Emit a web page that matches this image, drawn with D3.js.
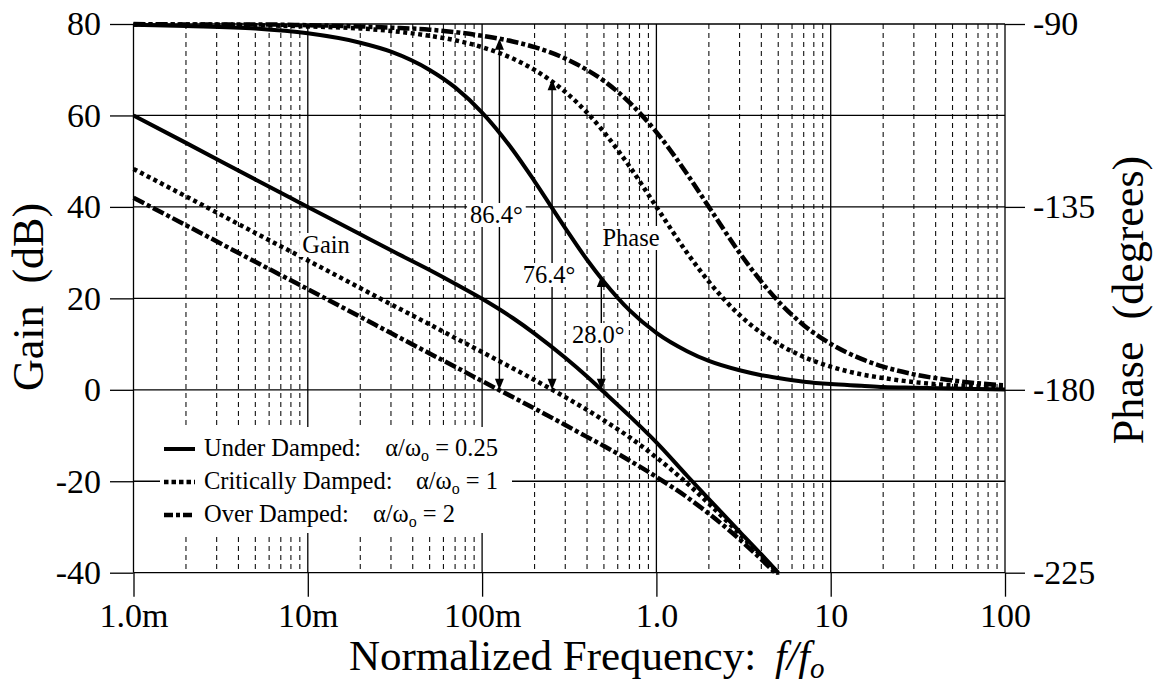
<!DOCTYPE html>
<html>
<head>
<meta charset="utf-8">
<script src="https://cdn.jsdelivr.net/npm/d3@7"></script>
<style>
  html, body { margin: 0; padding: 0; background: #fff; }
  svg { display: block; font-family: "Liberation Serif", "Times New Roman", Times, serif; }
  text { font-family: "Liberation Serif", "Times New Roman", Times, serif; fill: #000; }
</style>
</head>
<body>
<svg id="chart" width="1158" height="689"></svg>
<script>
// Normalized frequency f/fo (log axis)
const freq = [0.001, 0.002, 0.005, 0.01, 0.02, 0.03, 0.05, 0.07, 0.1, 0.15, 0.2, 0.3, 0.4, 0.5,
              0.7, 1, 1.5, 2, 3, 4, 5, 7, 10, 15, 20, 30, 50, 70, 100];
const gainFreq = [0.001, 0.002, 0.005, 0.01, 0.02, 0.03, 0.05, 0.07, 0.1, 0.15, 0.2, 0.3, 0.4, 0.5,
                  0.7, 1, 1.5, 2, 3, 4, 5];

// Gain (dB)
const gainUnder = [60.0, 54.0, 46.0, 40.0, 34.0, 30.5, 26.2, 23.2, 19.9, 15.7, 12.3, 7.0, 2.9, -0.5,
                   -5.7, -11.5, -18.8, -23.9, -31.0, -36.0, -40.0];
const gainCrit  = [48.3, 42.3, 34.3, 28.3, 22.25, 18.7, 14.3, 11.35, 8.25, 4.7, 2.15, -1.6, -4.4, -6.7,
                   -10.35, -14.8, -20.45, -24.9, -31.5, -36.3, -40.2];
const gainOver  = [42.0, 36.0, 28.0, 22.0, 15.95, 12.4, 7.95, 5.05, 1.9, -1.6, -4.1, -7.7, -10.3, -12.3,
                   -15.45, -19.05, -23.5, -27.1, -32.7, -37.1, -40.65];

// Phase (degrees)
const phaseUnder = [-90.2, -90.5, -91.1, -92.3, -94.6, -96.8, -101.3, -105.6, -111.8, -121.0, -128.7,
                    -140.2, -148.0, -153.4, -160.4, -166.0, -170.5, -172.9, -175.2, -176.4, -177.1,
                    -178.0, -178.6, -179.0, -179.3, -179.5, -179.7, -179.8, -179.9];
const phaseCrit  = [-90.1, -90.1, -90.3, -90.6, -91.1, -91.7, -92.9, -94.0, -95.7, -98.5, -101.3,
                    -106.7, -111.8, -116.6, -125.0, -135.0, -146.3, -153.4, -161.6, -166.0, -168.7,
                    -171.9, -174.3, -176.2, -177.1, -178.1, -178.9, -179.2, -179.4];
const phaseOver  = [-90.0, -90.1, -90.1, -90.3, -90.6, -90.9, -91.4, -92.0, -92.9, -94.3, -95.7,
                    -98.5, -101.3, -104.0, -109.3, -116.6, -126.9, -135.0, -146.3, -153.4, -158.2,
                    -164.1, -168.7, -172.4, -174.3, -176.2, -177.7, -178.4, -178.9];

// Legend entries and phase margin at the gain crossover of each case
const seriesNames  = ["Under Damped:", "Critically Damped:", "Over Damped:"];
const dampingRatio = ["0.25", "1", "2"];
const crossoverFreq = [0.483, 0.252, 0.1257];
const phaseMargin   = [28.0, 76.4, 86.4];

// Axis ticks
const xTicks = [0.001, 0.01, 0.1, 1, 10, 100];
const xTickLabels = ["1.0m", "10m", "100m", "1.0", "10", "100"];
const gainTicks = [80, 60, 40, 20, 0, -20, -40];
const phaseTicks = [-90, -135, -180, -225];

// ---------------------------------------------------------------
const FONT = "'Liberation Serif', 'Times New Roman', Times, serif";
const svg = d3.select("#chart");
const X0 = 133.5, X1 = 1005, Y0 = 24, Y1 = 572.7;

const x = d3.scaleLog().domain([0.001, 100]).range([X0, X1]);
const yG = d3.scaleLinear().domain([-40, 80]).range([Y1, Y0]);
const yP = d3.scaleLinear().domain([-225, -90]).range([Y1, Y0]);

svg.append("rect").attr("width", 1158).attr("height", 689).attr("fill", "#fff");

// Minor (dashed) vertical grid: 2..9 in every decade
const minor = [];
for (let dec = 0.001; dec < 100; dec *= 10) {
  for (let m = 2; m <= 9; m++) minor.push(+(dec * m).toPrecision(3));
}
const grid = svg.append("g");
grid.selectAll("line.minor").data(minor).join("line")
  .attr("x1", d => x(d)).attr("x2", d => x(d))
  .attr("y1", Y0).attr("y2", Y1)
  .attr("stroke", "#111").attr("stroke-width", 1.1)
  .attr("stroke-dasharray", "5,4");

// Major vertical grid
grid.selectAll("line.major").data(xTicks).join("line")
  .attr("x1", d => x(d)).attr("x2", d => x(d))
  .attr("y1", Y0).attr("y2", Y1)
  .attr("stroke", "#000").attr("stroke-width", 1.3);

// Horizontal grid
grid.selectAll("line.h").data(gainTicks).join("line")
  .attr("x1", X0).attr("x2", X1)
  .attr("y1", d => yG(d)).attr("y2", d => yG(d))
  .attr("stroke", "#000").attr("stroke-width", 1.3);

// Axes
const fontTick = 34;
const axL = svg.append("g").attr("transform", `translate(${X0},0)`)
  .call(d3.axisLeft(yG).tickValues(gainTicks).tickSize(23.5).tickPadding(9).tickFormat(d => String(d)));
const axR = svg.append("g").attr("transform", `translate(${X1},0)`)
  .call(d3.axisRight(yP).tickValues(phaseTicks).tickSize(20).tickPadding(8).tickFormat(d => String(d)));
const axB = svg.append("g").attr("transform", `translate(0,${Y1})`)
  .call(d3.axisBottom(x).tickValues(xTicks).tickSize(24).tickPadding(6)
    .tickFormat((d, i) => xTickLabels[i]));
[axL, axR, axB].forEach(a => {
  a.attr("font-family", FONT);
  a.select(".domain").remove();
  a.selectAll(".tick line").attr("stroke", "#000").attr("stroke-width", 1.3);
  a.selectAll(".tick text").attr("font-size", fontTick).style("font-family", FONT).attr("fill", "#000");
});

// Legend box (white background)
const legend = svg.append("g");
legend.append("rect").attr("x", 160).attr("y", 427).attr("width", 352).attr("height", 106).attr("fill", "#fff");

// Curves
const clip = svg.append("clipPath").attr("id", "plotClip");
clip.append("rect").attr("x", X0 - 3).attr("y", Y0 - 4).attr("width", X1 - X0 + 6).attr("height", Y1 - Y0 + 6);

const styles = [
  { width: 4, dash: null, legendDash: null },
  { width: 4.5, dash: "4,3.5", legendDash: "4.5,3" },
  { width: 4.5, dash: "12,3,4,3", legendDash: "9,3,4,3" }
];
const lineGain = d3.line().x((d, i) => x(gainFreq[i])).y(d => yG(d)).curve(d3.curveMonotoneX);
const linePhase = d3.line().x((d, i) => x(freq[i])).y(d => yP(d)).curve(d3.curveMonotoneX);

const curves = svg.append("g").attr("clip-path", "url(#plotClip)");
[gainUnder, gainCrit, gainOver].forEach((s, k) => {
  curves.append("path").attr("d", lineGain(s)).attr("fill", "none").attr("stroke", "#000")
    .attr("stroke-width", styles[k].width).attr("stroke-dasharray", styles[k].dash);
});
[phaseUnder, phaseCrit, phaseOver].forEach((s, k) => {
  curves.append("path").attr("d", linePhase(s)).attr("fill", "none").attr("stroke", "#000")
    .attr("stroke-width", styles[k].width).attr("stroke-dasharray", styles[k].dash);
});

// Phase-margin arrows: from -180° (0 dB) up to the phase at crossover
const arrows = svg.append("g");
function arrowHead(xp, yp, dir) {
  const w = 4.5, h = 11;
  arrows.append("path")
    .attr("d", `M${xp},${yp} L${xp - w},${yp - dir * h} L${xp + w},${yp - dir * h} Z`)
    .attr("fill", "#000");
}
crossoverFreq.forEach((f, i) => {
  const xa = x(f);
  const yTop = yP(-180 + phaseMargin[i]);
  const yBot = yP(-180);
  arrows.append("line").attr("x1", xa).attr("x2", xa).attr("y1", yTop + 4).attr("y2", yBot - 4)
    .attr("stroke", "#000").attr("stroke-width", 1.4);
  arrowHead(xa, yTop, -1);
  arrowHead(xa, yBot, 1);
});

// Text annotations with white backing
const notes = svg.append("g");
function note(txt, cx, baseline) {
  const t = notes.append("text").attr("x", cx).attr("y", baseline)
    .attr("text-anchor", "middle").attr("font-size", 24.5).style("font-family", FONT).text(txt);
  const b = t.node().getBBox();
  notes.insert("rect", "text").attr("x", b.x - 3).attr("y", b.y + 2).attr("width", b.width + 6)
    .attr("height", b.height - 3).attr("fill", "#fff");
}
const noteBaselines = [343, 283, 223];
phaseMargin.forEach((pm, i) => {
  note(pm.toFixed(1) + "\u00B0", x(crossoverFreq[i]) - 3, noteBaselines[i]);
});
note("Gain", 326, 253);
note("Phase", 631, 246);

// Legend entries
const legRows = [449, 482, 515];
const legEnds = [498, 498, 455];
seriesNames.forEach((name, i) => {
  legend.append("line").attr("x1", 164).attr("x2", 195)
    .attr("y1", legRows[i]).attr("y2", legRows[i])
    .attr("stroke", "#000").attr("stroke-width", styles[i].width)
    .attr("stroke-dasharray", styles[i].legendDash);
  legend.append("text").attr("x", 204).attr("y", legRows[i] + 7)
    .attr("font-size", 24.5).style("font-family", FONT).text(name);
  const t = legend.append("text").attr("x", legEnds[i]).attr("y", legRows[i] + 7)
    .attr("text-anchor", "end").attr("font-size", 24.5).style("font-family", FONT);
  t.append("tspan").text("\u03B1/\u03C9");
  t.append("tspan").attr("font-size", 16).attr("dy", 5).text("o");
  t.append("tspan").attr("dy", -5).text(" = " + dampingRatio[i]);
});

// Axis titles
svg.append("text").attr("x", 349).attr("y", 670)
  .attr("font-size", 43).style("font-family", FONT).text("Normalized Frequency:");
const xt = svg.append("text").attr("x", 775).attr("y", 670).attr("font-size", 42)
  .attr("font-style", "italic").style("font-family", FONT);
xt.append("tspan").text("f/f");
xt.append("tspan").attr("font-size", 29).attr("dy", 8).text("o");

svg.append("text").attr("transform", "translate(43,297) rotate(-90)")
  .attr("text-anchor", "middle").attr("font-size", 44).style("font-family", FONT).text("Gain\u00A0\u00A0(dB)");
svg.append("text").attr("transform", "translate(1143,300) rotate(-90)")
  .attr("text-anchor", "middle").attr("font-size", 44).style("font-family", FONT).text("Phase\u00A0\u00A0(degrees)");
</script>
</body>
</html>
